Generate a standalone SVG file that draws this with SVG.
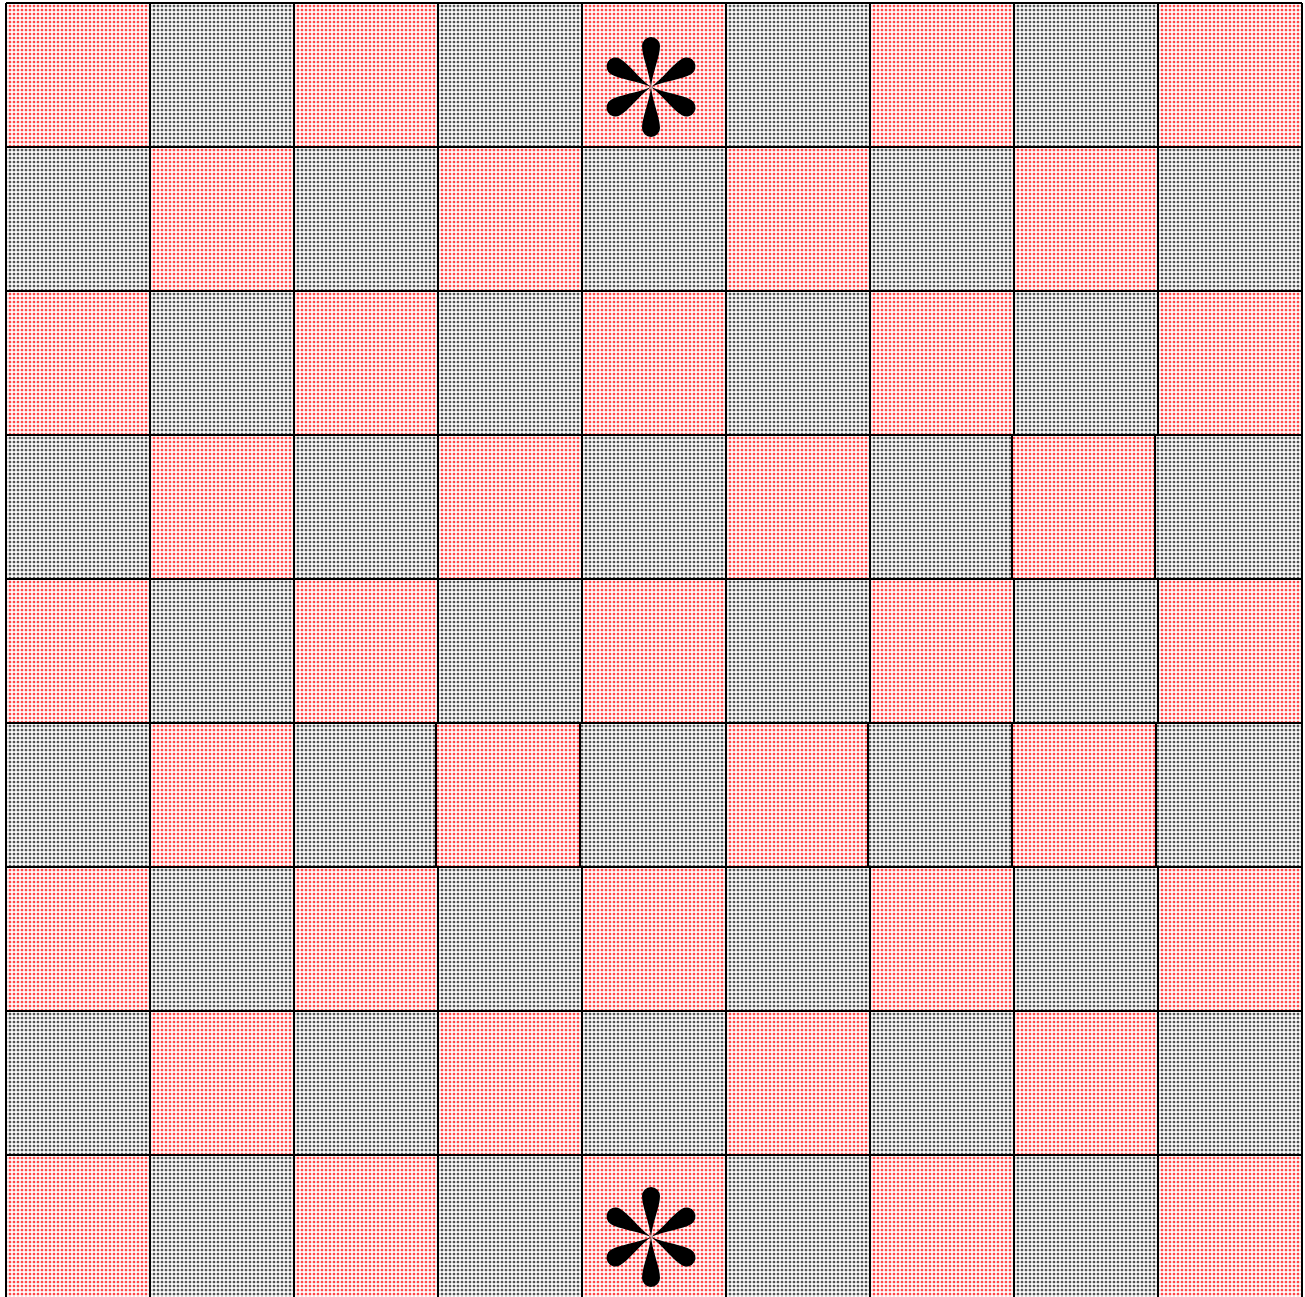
<svg xmlns="http://www.w3.org/2000/svg" width="1305" height="1297" viewBox="0 0 1305 1297">
<defs>
<pattern id="pr" patternUnits="userSpaceOnUse" width="4" height="4">
<rect width="4" height="4" fill="#fff"/>
<circle cx="2" cy="2" r="1.6" fill="#ff9a9a"/>
<circle cx="2" cy="2" r="0.9" fill="#ff2020"/>
</pattern>
<pattern id="pg" patternUnits="userSpaceOnUse" width="4" height="4">
<rect width="4" height="4" fill="#fff"/>
<circle cx="2" cy="2" r="1.6" fill="#999"/>
<circle cx="2" cy="2" r="0.9" fill="#333"/>
</pattern>
<path id="petal" d="M0,0 C-2,-16 -9,-31 -9,-41 A9,9 0 0 1 9,-41 C9,-31 2,-16 0,0Z"/>
<g id="star">
<use href="#petal"/>
<use href="#petal" transform="rotate(60)"/>
<use href="#petal" transform="rotate(120)"/>
<use href="#petal" transform="rotate(180)"/>
<use href="#petal" transform="rotate(240)"/>
<use href="#petal" transform="rotate(300)"/>
</g>
</defs>
<style>
.r{fill:url(#pr)}
.g{fill:url(#pg)}
.ln{stroke:#000;stroke-width:2;fill:none}
</style>
<rect width="1305" height="1297" fill="#fff"/>
<g id="cells">
<rect class="r" x="6" y="3" width="144" height="144"/><rect class="g" x="150" y="3" width="144" height="144"/><rect class="r" x="294" y="3" width="144" height="144"/><rect class="g" x="438" y="3" width="144" height="144"/><rect class="r" x="582" y="3" width="144" height="144"/><rect class="g" x="726" y="3" width="144" height="144"/><rect class="r" x="870" y="3" width="144" height="144"/><rect class="g" x="1014" y="3" width="144" height="144"/><rect class="r" x="1158" y="3" width="144" height="144"/>
<rect class="g" x="6" y="147" width="144" height="144"/><rect class="r" x="150" y="147" width="144" height="144"/><rect class="g" x="294" y="147" width="144" height="144"/><rect class="r" x="438" y="147" width="144" height="144"/><rect class="g" x="582" y="147" width="144" height="144"/><rect class="r" x="726" y="147" width="144" height="144"/><rect class="g" x="870" y="147" width="144" height="144"/><rect class="r" x="1014" y="147" width="144" height="144"/><rect class="g" x="1158" y="147" width="144" height="144"/>
<rect class="r" x="6" y="291" width="144" height="144"/><rect class="g" x="150" y="291" width="144" height="144"/><rect class="r" x="294" y="291" width="144" height="144"/><rect class="g" x="438" y="291" width="144" height="144"/><rect class="r" x="582" y="291" width="144" height="144"/><rect class="g" x="726" y="291" width="144" height="144"/><rect class="r" x="870" y="291" width="144" height="144"/><rect class="g" x="1014" y="291" width="144" height="144"/><rect class="r" x="1158" y="291" width="144" height="144"/>
<rect class="g" x="6" y="435" width="144" height="144"/><rect class="r" x="150" y="435" width="144" height="144"/><rect class="g" x="294" y="435" width="144" height="144"/><rect class="r" x="438" y="435" width="144" height="144"/><rect class="g" x="582" y="435" width="144" height="144"/><rect class="r" x="726" y="435" width="144" height="144"/><rect class="g" x="870" y="435" width="142" height="144"/><rect class="r" x="1012" y="435" width="143" height="144"/><rect class="g" x="1155" y="435" width="147" height="144"/>
<rect class="r" x="6" y="579" width="144" height="144"/><rect class="g" x="150" y="579" width="144" height="144"/><rect class="r" x="294" y="579" width="144" height="144"/><rect class="g" x="438" y="579" width="144" height="144"/><rect class="r" x="582" y="579" width="144" height="144"/><rect class="g" x="726" y="579" width="144" height="144"/><rect class="r" x="870" y="579" width="144" height="144"/><rect class="g" x="1014" y="579" width="144" height="144"/><rect class="r" x="1158" y="579" width="144" height="144"/>
<rect class="g" x="6" y="723" width="144" height="144"/><rect class="r" x="150" y="723" width="144" height="144"/><rect class="g" x="294" y="723" width="142" height="144"/><rect class="r" x="436" y="723" width="144" height="144"/><rect class="g" x="580" y="723" width="146" height="144"/><rect class="r" x="726" y="723" width="142" height="144"/><rect class="g" x="868" y="723" width="144" height="144"/><rect class="r" x="1012" y="723" width="144" height="144"/><rect class="g" x="1156" y="723" width="146" height="144"/>
<rect class="r" x="6" y="867" width="144" height="144"/><rect class="g" x="150" y="867" width="144" height="144"/><rect class="r" x="294" y="867" width="144" height="144"/><rect class="g" x="438" y="867" width="144" height="144"/><rect class="r" x="582" y="867" width="144" height="144"/><rect class="g" x="726" y="867" width="144" height="144"/><rect class="r" x="870" y="867" width="144" height="144"/><rect class="g" x="1014" y="867" width="144" height="144"/><rect class="r" x="1158" y="867" width="144" height="144"/>
<rect class="g" x="6" y="1011" width="144" height="144"/><rect class="r" x="150" y="1011" width="144" height="144"/><rect class="g" x="294" y="1011" width="144" height="144"/><rect class="r" x="438" y="1011" width="144" height="144"/><rect class="g" x="582" y="1011" width="144" height="144"/><rect class="r" x="726" y="1011" width="144" height="144"/><rect class="g" x="870" y="1011" width="144" height="144"/><rect class="r" x="1014" y="1011" width="144" height="144"/><rect class="g" x="1158" y="1011" width="144" height="144"/>
<rect class="r" x="6" y="1155" width="144" height="144"/><rect class="g" x="150" y="1155" width="144" height="144"/><rect class="r" x="294" y="1155" width="144" height="144"/><rect class="g" x="438" y="1155" width="144" height="144"/><rect class="r" x="582" y="1155" width="144" height="144"/><rect class="g" x="726" y="1155" width="144" height="144"/><rect class="r" x="870" y="1155" width="144" height="144"/><rect class="g" x="1014" y="1155" width="144" height="144"/><rect class="r" x="1158" y="1155" width="144" height="144"/>
</g>
<g id="grid" class="ln">
<path d="M6,3V1297M1302,3V1297"/>
<path d="M6,3H1302M6,147H1302M6,291H1302M6,435H1302M6,579H1302M6,723H1302M6,867H1302M6,1011H1302M6,1155H1302"/>
<path d="M150,3V1297"/>
<path d="M294,3V1297"/>
<path d="M438,3V723M436,723V867M438,867V1297"/>
<path d="M582,3V723M580,723V867M582,867V1297"/>
<path d="M726,3V1297"/>
<path d="M870,3V435M870,435V723M868,723V867M870,867V1297"/>
<path d="M1014,3V435M1012,435V579M1014,579V723M1012,723V867M1014,867V1297"/>
<path d="M1158,3V435M1155,435V579M1158,579V723M1156,723V867M1158,867V1297"/>
</g>
<g id="marks" fill="#000">
<use href="#star" x="651" y="87"/>
<use href="#star" x="651" y="1237"/>
</g>
</svg>
